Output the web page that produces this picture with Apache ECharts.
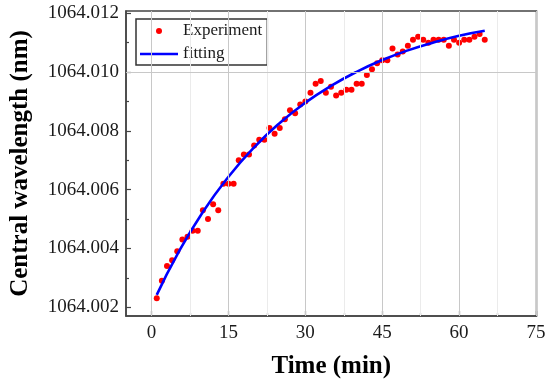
<!DOCTYPE html>
<html>
<head>
<meta charset="utf-8">
<script src="https://cdn.jsdelivr.net/npm/echarts@6/dist/echarts.min.js"></script>
<style>html,body{margin:0;padding:0;background:#fff}#c{width:550px;height:384px}</style>
</head>
<body>
<div id="c"></div>
<script>
// Experiment: time (min) and central wavelength (nm)
var expTime = [1,2,3,4,5,6,7,8,9,10,11,12,13,14,15,16,17,18,19,20,21,22,23,24,25,26,27,28,29,30,31,32,33,34,35,36,37,38,39,40,41,42,43,44,45,46,47,48,49,50,51,52,53,54,55,56,57,58,59,60,61,62,63,64,65];
var expWave = [1064.0023,1064.0029,1064.0034,1064.0036,1064.0039,1064.0043,1064.0044,1064.0046,1064.0046,1064.0053,
               1064.0050,1064.0055,1064.0053,1064.0062,1064.0062,1064.0062,1064.0070,1064.0072,1064.0072,1064.0075,
               1064.0077,1064.0077,1064.0081,1064.0079,1064.0081,1064.0084,1064.0087,1064.0086,1064.0089,1064.0090,
               1064.0093,1064.0096,1064.0097,1064.0093,1064.0095,1064.0092,1064.0093,1064.0094,1064.0094,1064.0096,
               1064.0096,1064.0099,1064.0101,1064.0103,1064.0104,1064.0104,1064.0108,1064.0106,1064.0107,1064.0109,
               1064.0111,1064.0112,1064.0111,1064.0110,1064.0111,1064.0111,1064.0111,1064.0109,1064.0111,1064.0110,
               1064.0111,1064.0111,1064.0112,1064.0113,1064.0111];
// Fitting curve read at sample times
var fitTime = [1,5,10,15,20,25,30,35,40,45,50,55,60,65];
var fitWave = [1064.00242,1064.00379,1064.00524,1064.00644,1064.00744,1064.00827,1064.00896,1064.00953,1064.01001,1064.01041,1064.01074,1064.01101,1064.01124,1064.01141];
// Tick values
var xMajor = [0,15,30,45,60,75];
var xMinor = [7.5,22.5,37.5,52.5,67.5];
var yMajor = [1064.002,1064.004,1064.006,1064.008,1064.010,1064.012];
var yMinor = [1064.003,1064.005,1064.007,1064.009,1064.011];

var font = "'Liberation Serif','Times New Roman',serif";
var expData = expTime.map(function(t,i){return [t, expWave[i]];});
var fitData = fitTime.map(function(t,i){return [t, fitWave[i]];});

var xMin=-5, xMax=75.1, yMin=1064.0017, yMax=1064.01208;

function xAx(vals, major){
  return {
    type:'value', min:xMin, max:xMax, position:'bottom',
    axisLine:{show:major, onZero:false, lineStyle:{color:'#444', width:1.5}},
    axisTick:{show:true, inside:true, length: major?5:3, customValues: vals, lineStyle:{color:'#444', width:1.2}},
    axisLabel:{show:major, customValues: vals, margin:8, fontFamily:font, fontSize:19, color:'#1a1a1a'},
    splitLine:{show:false},
    name: major?'Time (min)':'', nameLocation:'middle', nameGap:38,
    nameTextStyle:{fontFamily:font, fontSize:25, fontWeight:'bold', color:'#000'}
  };
}
function yAx(vals, major){
  return {
    type:'value', min:yMin, max:yMax, position:'left',
    axisLine:{show:major, onZero:false, lineStyle:{color:'#444', width:1.5}},
    axisTick:{show:true, inside:true, length: major?5:3, customValues: vals, lineStyle:{color:'#444', width:1.2}},
    axisLabel:{show:major, customValues: vals, margin:7, fontFamily:font, fontSize:19, color:'#1a1a1a',
      formatter:function(v){return v.toFixed(3);}},
    splitLine:{show:false},
    name: major?'Central wavelength (nm)':'', nameLocation:'middle', nameGap:93,
    nameTextStyle:{fontFamily:font, fontSize:25, fontWeight:'bold', color:'#000'}
  };
}
function gridLines(xs, ys, color){
  return {
    type:'line', data:[], xAxisIndex:0, yAxisIndex:0, z:1, silent:true,
    markLine:{silent:true, symbol:['none','none'], label:{show:false}, animation:false,
      lineStyle:{type:'solid', color:color, width:1},
      emphasis:{disabled:true},
      data: xs.map(function(v){return {xAxis:v};}).concat(ys.map(function(v){return {yAxis:v};}))}
  };
}

var chart = echarts.init(document.getElementById('c'), null, {renderer:'canvas'});
chart.setOption({
  animation:false,
  backgroundColor:'#fff',
  grid:{left:125, right:13.5, top:11, bottom:64.5, show:true, borderColor:'#444', borderWidth:1.5, backgroundColor:'transparent', z:5},
  xAxis:[xAx(xMajor,true), xAx(xMinor,false)],
  yAxis:[yAx(yMajor,true), yAx(yMinor,false)],
  legend:{
    left:136, top:19, orient:'vertical',
    itemWidth:38, itemHeight:6, itemGap:5,
    padding:[3,5,2,4],
    backgroundColor:'#fff', borderColor:'#333', borderWidth:1.5,
    textStyle:{fontFamily:font, fontSize:17, color:'#1a1a1a', lineHeight:18},
    data:[{name:'Experiment', icon:'circle', itemStyle:{color:'#ff0000', opacity:1}},
          {name:'fitting', icon:'path://M0,0L38,0L38,2.6L0,2.6Z'}]
  },
  series:[
    gridLines(xMinor, yMinor, '#ebebeb'),
    gridLines(xMajor, yMajor, '#c8c8c8'),
    {name:'Experiment', type:'scatter', data:expData, symbol:'circle', symbolSize:6,
     itemStyle:{color:'#ff0000', opacity:1}, xAxisIndex:0, yAxisIndex:0, z:3},
    {name:'fitting', type:'line', data:fitData, smooth:true, showSymbol:false, symbol:'none',
     lineStyle:{color:'#0000ff', width:2.6}, itemStyle:{color:'#0000ff'}, xAxisIndex:0, yAxisIndex:0, z:4}
  ]
});
</script>
</body>
</html>
